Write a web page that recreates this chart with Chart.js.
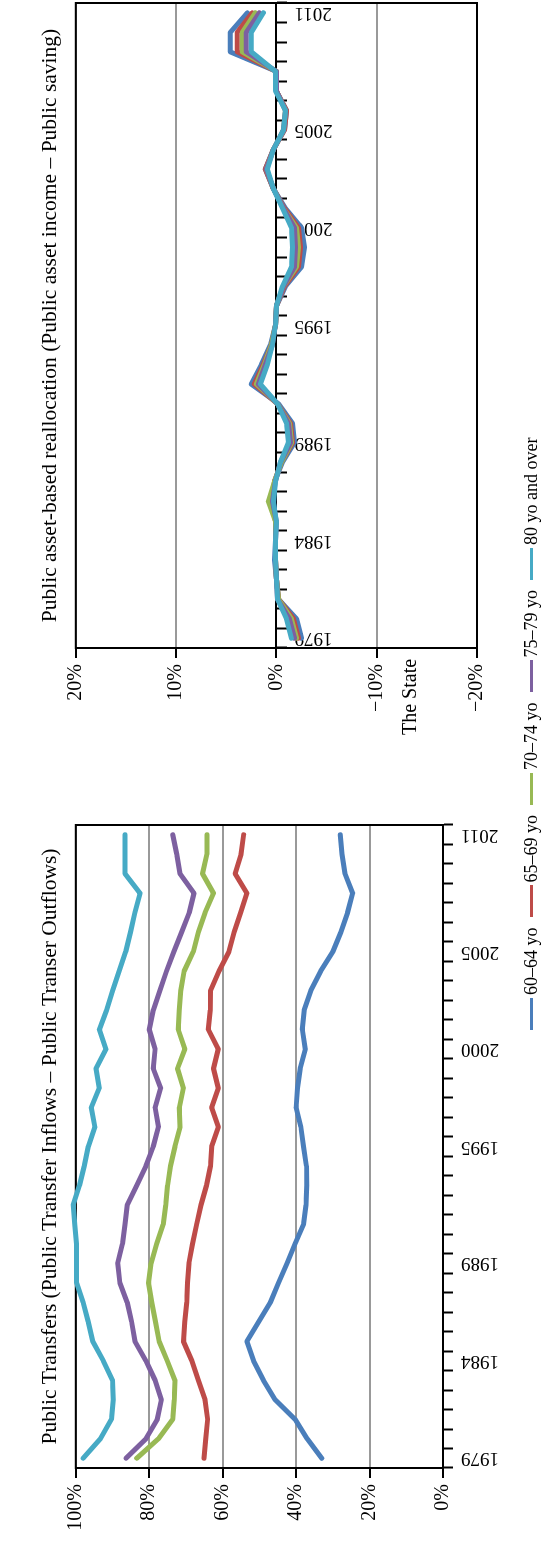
<!DOCTYPE html>
<html>
<head>
<meta charset="utf-8">
<script src="https://cdn.jsdelivr.net/npm/chart.js@4.4.1/dist/chart.umd.min.js"></script>
<style>
  body { margin: 0; background: #fff; }
  /* the figure is laid out landscape and turned a quarter turn */
  #fig {
    position: absolute; left: 0; top: 0;
    width: 1545px; height: 547px;
    transform-origin: 0 0;
    transform: translateY(1545px) rotate(-90deg);
    font-family: "Liberation Serif", serif;
    color: #000;
  }
  #c1 { position: absolute; left: 0; top: 0; }
  #c2 { position: absolute; left: 800px; top: 0; }
  #state { position: absolute; left: 810px; top: 398px; font-size: 20px; }
  #legend {
    position: absolute; left: 515px; top: 521px;
    display: flex; align-items: center; font-size: 18px; white-space: nowrap;
  }
  #legend span.sw { display: inline-block; width: 32px; height: 3px; margin-right: 3px; }
  #legend span.tx { margin-right: 10px; }
</style>
</head>
<body>
<div id="fig">
  <canvas id="c1" width="760" height="547"></canvas>
  <canvas id="c2" width="745" height="547"></canvas>
  <div id="state">The State</div>
  <div id="legend"></div>
</div>
<script>
const years = ['1979','1980','1981','1982','1983','1984','1985','1986','1987','1988','1989',
  '1990','1991','1992','1993','1994','1995','1996','1997','1998','1999','2000',
  '2001','2002','2003','2004','2005','2006','2007','2008','2009','2010','2011'];
const shownYears = ['1979', '1984', '1989', '1995', '2000', '2005', '2011'];
const groups = ['60–64 yo', '65–69 yo', '70–74 yo', '75–79 yo', '80 yo and over'];
const colors = ['#4a7ebb', '#be4b48', '#98b954', '#7d60a0', '#46aac5'];

// Public transfers, %
const pt60 = [33.0,37.0,40.3,45.7,48.9,51.6,53.4,50.2,47.0,44.8,42.5,40.3,38.0,37.3,37.1,37.2,38.0,
  38.7,40.0,39.6,38.9,37.5,38.3,37.8,36.0,33.3,30.0,27.8,26.0,24.6,26.7,27.5,28.0];
const pt65 = [65.1,64.6,64.1,64.8,66.6,68.4,70.7,70.3,69.8,69.6,69.2,68.2,67.1,65.9,64.4,63.3,63.0,
  61.2,63.0,61.2,62.5,61.2,63.9,63.4,63.3,61.0,58.3,56.9,55.1,53.4,56.6,55.0,54.3];
const pt70 = [83.4,77.5,73.6,73.2,73.0,75.1,77.3,78.3,79.3,80.2,79.5,78.0,76.2,75.5,75.0,74.2,73.0,
  71.6,71.8,70.7,72.3,70.3,72.1,71.8,71.4,70.5,68.0,66.6,64.8,62.5,65.5,64.3,64.3];
const pt75 = [86.3,80.9,77.8,76.7,78.4,80.9,83.9,84.8,86.0,88.0,88.6,87.3,86.6,86.0,83.4,80.9,78.9,
  77.5,78.4,76.9,78.9,78.4,80.0,78.9,77.1,75.3,73.3,71.2,69.1,67.8,71.6,72.5,73.6];
const pt80 = [98.0,93.3,90.3,89.8,90.0,92.5,95.4,96.6,98.0,99.8,99.8,99.8,100.3,100.7,99.0,97.7,96.6,
  94.8,95.8,93.6,94.5,91.8,93.6,91.6,90.0,88.2,86.4,85.1,83.9,82.5,86.6,86.6,86.6];

// Public asset-based reallocation, %
const pa60 = [-2.5,-2.0,-0.2,0,0.2,0.1,0.1,0.3,0.2,-0.6,-1.8,-1.6,-0.2,2.5,1.5,0.6,0.1,
  0,-0.9,-2.5,-2.8,-2.5,-0.9,0.3,1.1,0.3,-0.8,-1.0,0,0,4.6,4.6,2.9];
const pa65 = [-2.2,-1.7,-0.2,0,0.1,0.1,0.1,0.4,0.2,-0.5,-1.6,-1.4,-0.1,2.2,1.3,0.5,0.1,
  0,-0.8,-2.2,-2.4,-2.2,-0.8,0.3,1.1,0.3,-0.8,-1.0,0,0,3.9,3.9,2.4];
const pa70 = [-2.0,-1.5,-0.2,0,0.1,0.1,0.1,0.8,0.2,-0.5,-1.5,-1.3,-0.1,2.0,1.2,0.5,0.1,
  0,-0.7,-2.0,-2.2,-2.0,-0.7,0.3,1.0,0.3,-0.7,-0.9,0,0,3.4,3.4,2.1];
const pa75 = [-1.8,-1.3,-0.1,0,0.1,0.1,0,0.4,0.1,-0.4,-1.4,-1.2,-0.1,1.8,1.1,0.4,0.1,
  0,-0.7,-1.8,-1.9,-1.8,-0.7,0.3,1.0,0.3,-0.7,-0.9,0,0,3.0,3.0,1.7];
const pa80 = [-1.5,-1.0,-0.1,0,0.1,0.1,0,0.3,0.1,-0.4,-1.2,-1.0,-0.1,1.6,0.9,0.4,0.1,
  0,-0.6,-1.5,-1.6,-1.5,-0.6,0.3,0.9,0.3,-0.7,-0.9,0.1,0.1,2.5,2.5,1.3];

const serif = 'Liberation Serif';
const gridGrey = '#999999';

// black frame round the plot area
const frame = {
  id: 'frame',
  beforeDatasetsDraw(chart) {
    const a = chart.chartArea, ctx = chart.ctx;
    ctx.save();
    ctx.strokeStyle = '#000';
    ctx.lineWidth = 2;
    ctx.strokeRect(a.left, a.top, a.right - a.left, a.bottom - a.top);
    ctx.restore();
  }
};

function makeSets(series, width) {
  return series.map((d, i) => ({
    label: groups[i],
    data: d,
    borderColor: colors[i],
    backgroundColor: colors[i],
    borderWidth: width,
    pointRadius: 0,
    borderCapStyle: 'round',
    borderJoinStyle: 'round',
    tension: 0,
    clip: false,
    order: 5 - i
  }));
}

function yearTick(value) {
  const y = this.getLabelForValue(value);
  return shownYears.includes(y) ? y : '';
}

function pct(v) {
  return (v < 0 ? '\u2212' + Math.abs(v) : v) + '%';
}

// rotated year labels should not eat into the plot width
function noSidePad(s) {
  s.paddingLeft = 0;
  s.paddingRight = 0;
}

const commonTitle = (text) => ({
  display: true,
  text: text,
  color: '#000',
  fullSize: false,
  font: { family: serif, size: 21.5, weight: 'normal' },
  padding: { top: 37, bottom: 13 }
});

new Chart(document.getElementById('c1'), {
  type: 'line',
  data: { labels: years, datasets: makeSets([pt60, pt65, pt70, pt75, pt80], 5) },
  options: {
    responsive: false,
    animation: false,
    layout: { padding: { left: 0, right: 40, top: 0, bottom: 0 } },
    plugins: {
      legend: { display: false },
      tooltip: { enabled: false },
      title: commonTitle('Public Transfers (Public Transfer Inflows \u2013 Public Transer Outflows)')
    },
    scales: {
      x: {
        offset: true,
        afterFit: s => { s.height = 104; noSidePad(s); },
        grid: { offset: true, drawOnChartArea: false, drawTicks: true, tickLength: 10, tickColor: '#000', tickWidth: 2 },
        border: { display: true, color: '#000', width: 2 },
        ticks: {
          autoSkip: false, minRotation: 90, maxRotation: 90, padding: 8,
          color: '#000', font: { family: serif, size: 19 },
          callback: yearTick
        }
      },
      y: {
        min: 0, max: 100,
        afterFit: s => { s.width = 77; },
        grid: { color: gridGrey, lineWidth: 2, tickLength: 10, tickColor: '#000', tickWidth: 2 },
        border: { display: true, color: '#000', width: 2 },
        ticks: { stepSize: 20, padding: 6, color: '#000', font: { family: serif, size: 20 }, callback: pct }
      }
    }
  },
  plugins: [frame]
});

new Chart(document.getElementById('c2'), {
  type: 'line',
  data: { labels: years, datasets: makeSets([pa60, pa65, pa70, pa75, pa80], 5) },
  options: {
    responsive: false,
    animation: false,
    layout: { padding: { left: 0, right: 3, top: 0, bottom: 70 } },
    plugins: {
      legend: { display: false },
      tooltip: { enabled: false },
      title: commonTitle('Public asset-based reallocation (Public asset income \u2013 Public saving)')
    },
    scales: {
      x: {
        position: { y: 0 },
        offset: true,
        afterFit: noSidePad,
        grid: { offset: true, drawOnChartArea: false, drawTicks: true, tickLength: 10, tickColor: '#000', tickWidth: 2 },
        border: { display: true, color: '#000', width: 2 },
        ticks: {
          autoSkip: false, minRotation: 90, maxRotation: 90, padding: 8,
          color: '#000', font: { family: serif, size: 19 },
          callback: yearTick
        }
      },
      y: {
        min: -20, max: 20,
        afterFit: s => { s.width = 97; },
        grid: {
          color: c => (c.tick && c.tick.value === 0 ? 'rgba(0,0,0,0)' : gridGrey),
          lineWidth: 2, tickLength: 10, tickColor: '#000', tickWidth: 2
        },
        border: { display: true, color: '#000', width: 2 },
        ticks: { stepSize: 10, padding: 6, color: '#000', font: { family: serif, size: 20 }, callback: pct }
      }
    }
  },
  plugins: [frame]
});

// legend under the two panels
const legendBox = document.getElementById('legend');
groups.forEach((g, i) => {
  const sw = document.createElement('span');
  sw.className = 'sw';
  sw.style.background = colors[i];
  const tx = document.createElement('span');
  tx.className = 'tx';
  tx.textContent = g;
  legendBox.appendChild(sw);
  legendBox.appendChild(tx);
});
</script>
</body>
</html>
